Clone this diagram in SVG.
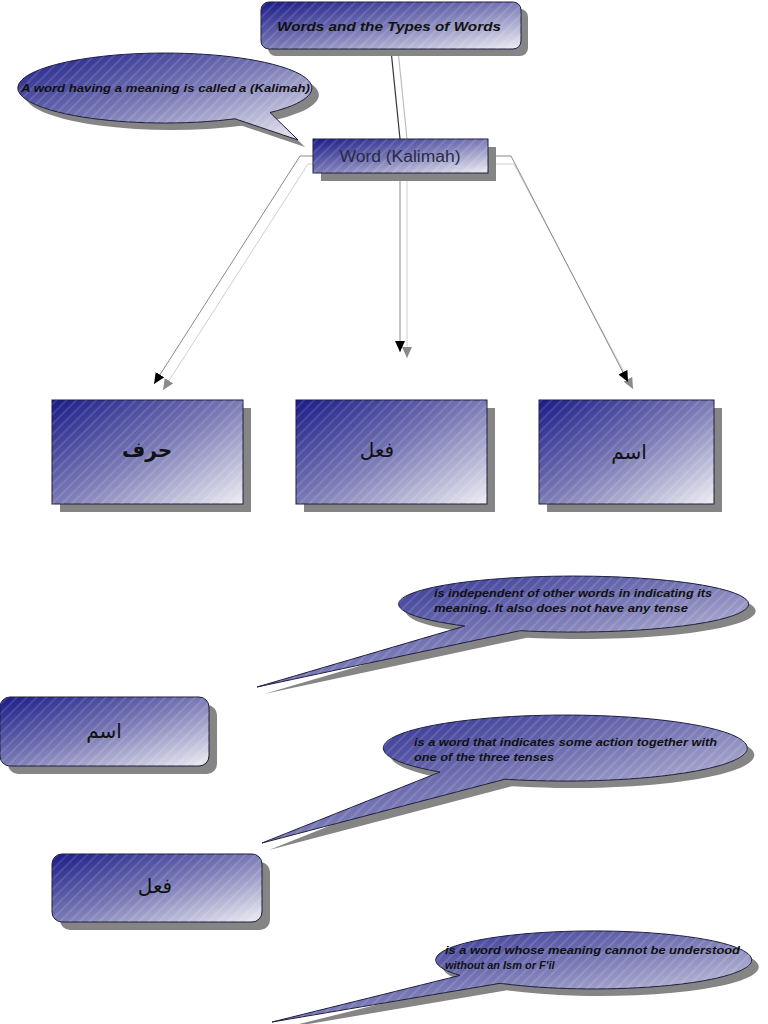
<svg xmlns="http://www.w3.org/2000/svg" width="768" height="1024" viewBox="0 0 768 1024">
  <style>
    .shadow { fill: #858585; }
    .box { fill: url(#grad); stroke: #1c1c3c; stroke-width: 1; }
    .stripe { fill: url(#stripes); }
    .lbl { font-family: "Liberation Sans", Arial, sans-serif; font-weight: bold; font-style: italic; fill: #111; }
    .ar { font-family: "DejaVu Sans", "Noto Sans", sans-serif; font-size: 20px; fill: #111; text-anchor: middle; }
    .main { fill: none; stroke: #8a8a8a; stroke-width: 1; }
    .ghost { fill: none; stroke: #cfcfcf; stroke-width: 1; }
  </style>
  <defs>
    <linearGradient id="grad" x1="0" y1="0" x2="1" y2="1">
      <stop offset="0" stop-color="#1a1a88"/>
      <stop offset="0.5" stop-color="#7a7ab6"/>
      <stop offset="1" stop-color="#eeeef3"/>
    </linearGradient>
    <pattern id="stripes" width="7" height="7" patternUnits="userSpaceOnUse" patternTransform="rotate(45)">
      <rect x="0" y="0" width="2" height="7" fill="#ffffff" fill-opacity="0.12"/>
    </pattern>
    <marker id="arrB" markerUnits="userSpaceOnUse" markerWidth="12" markerHeight="10" refX="11" refY="5" orient="auto">
      <path d="M0,0 L11,5 L0,10 Z" fill="#000"/>
    </marker>
    <marker id="arrG" markerUnits="userSpaceOnUse" markerWidth="12" markerHeight="10" refX="11" refY="5" orient="auto">
      <path d="M0,0 L11,5 L0,10 Z" fill="#8a8a8a"/>
    </marker>
  </defs>
  <rect width="768" height="1024" fill="#ffffff"/>

  <g id="connectors">
    <line x1="398" y1="50" x2="407" y2="139" stroke="#bdbdbd" stroke-width="1.2"/>
    <line x1="391" y1="50" x2="400" y2="139" stroke="#333" stroke-width="1.2"/>
    <polyline class="ghost" points="313,164 308,164 163,390" marker-end="url(#arrG)"/>
    <polyline class="main" points="313,156 300,156 154,384" marker-end="url(#arrB)"/>
    <line class="ghost" x1="407" y1="181" x2="407" y2="358" marker-end="url(#arrG)"/>
    <line class="main" x1="400" y1="173" x2="400" y2="352" marker-end="url(#arrB)"/>
    <polyline class="ghost" points="496,164 514,164 633,389" marker-end="url(#arrG)"/>
    <polyline class="main" points="488,156 511,156 628,382" marker-end="url(#arrB)"/>
  </g>

  <g id="title">
    <rect class="shadow" x="268" y="9" width="260" height="47" rx="8"/>
    <rect class="box" x="261" y="2" width="260" height="47" rx="8"/>
    <rect class="stripe" x="261" y="2" width="260" height="47" rx="8"/>
    <text class="lbl" x="389" y="31" font-size="13.5" text-anchor="middle" textLength="224" lengthAdjust="spacingAndGlyphs">Words and the Types of Words</text>
  </g>

  <g id="callout-kalimah">
    <path class="shadow" d="M277 119.5 L305 147 L242 125.8 A147 35 0 1 1 277 119.5 Z"/>
    <path class="box" d="M270 112.5 L298 140 L235 118.8 A147 35 0 1 1 270 112.5 Z"/>
    <path class="stripe" d="M270 112.5 L298 140 L235 118.8 A147 35 0 1 1 270 112.5 Z"/>
    <text class="lbl" x="21" y="92" font-size="11.5" textLength="289" lengthAdjust="spacingAndGlyphs">A word having a meaning is called a (Kalimah)</text>
  </g>

  <g id="word">
    <rect class="shadow" x="321" y="147" width="175" height="34"/>
    <rect class="box" x="313" y="139" width="175" height="34"/>
    <rect class="stripe" x="313" y="139" width="175" height="34"/>
    <text x="400" y="162" font-family="Liberation Sans, Arial, sans-serif" font-size="16" fill="#2a2a48" text-anchor="middle" textLength="121" lengthAdjust="spacingAndGlyphs">Word (Kalimah)</text>
  </g>

  <g id="harf">
    <rect class="shadow" x="60" y="408" width="191" height="104"/>
    <rect class="box" x="52" y="400" width="191" height="104"/>
    <rect class="stripe" x="52" y="400" width="191" height="104"/>
    <text class="ar" x="147" y="457" font-weight="bold">حرف</text>
  </g>

  <g id="fil">
    <rect class="shadow" x="304" y="408" width="191" height="104"/>
    <rect class="box" x="296" y="400" width="191" height="104"/>
    <rect class="stripe" x="296" y="400" width="191" height="104"/>
    <text class="ar" x="377" y="457">فعل</text>
  </g>

  <g id="ism">
    <rect class="shadow" x="547" y="408" width="175" height="104"/>
    <rect class="box" x="539" y="400" width="175" height="104"/>
    <rect class="stripe" x="539" y="400" width="175" height="104"/>
    <text class="ar" x="629" y="459">اسم</text>
  </g>

  <g id="callout-ism">
    <path class="shadow" d="M472 633 L264 694 L527 637.7 A175 28 0 1 0 472 633 Z"/>
    <path class="box" d="M465 626 L257 687 L520 630.7 A175 28 0 1 0 465 626 Z"/>
    <path class="stripe" d="M465 626 L257 687 L520 630.7 A175 28 0 1 0 465 626 Z"/>
    <text class="lbl" x="434" y="597" font-size="11" textLength="278" lengthAdjust="spacingAndGlyphs">is independent of other words in indicating its</text>
    <text class="lbl" x="434" y="612" font-size="11" textLength="254" lengthAdjust="spacingAndGlyphs">meaning. It also does not have any tense</text>
  </g>

  <g id="ism-box">
    <rect class="shadow" x="8" y="705" width="209" height="69" rx="10"/>
    <rect class="box" x="0" y="697" width="209" height="69" rx="10"/>
    <rect class="stripe" x="0" y="697" width="209" height="69" rx="10"/>
    <text class="ar" x="104" y="738">اسم</text>
  </g>

  <g id="callout-fil">
    <path class="shadow" d="M447 779 L269 850 L512 786.2 A182 33 0 1 0 447 779 Z"/>
    <path class="box" d="M440 772 L262 843 L505 779.2 A182 33 0 1 0 440 772 Z"/>
    <path class="stripe" d="M440 772 L262 843 L505 779.2 A182 33 0 1 0 440 772 Z"/>
    <text class="lbl" x="414" y="746" font-size="11" textLength="303" lengthAdjust="spacingAndGlyphs">is a word that indicates some action together with</text>
    <text class="lbl" x="414" y="761" font-size="11" textLength="140" lengthAdjust="spacingAndGlyphs">one of the three tenses</text>
  </g>

  <g id="fil-box">
    <rect class="shadow" x="60" y="862" width="210" height="68" rx="10"/>
    <rect class="box" x="52" y="854" width="210" height="68" rx="10"/>
    <rect class="stripe" x="52" y="854" width="210" height="68" rx="10"/>
    <text class="ar" x="155" y="893">فعل</text>
  </g>

  <g id="callout-harf">
    <path class="shadow" d="M467 982.4 L279 1029 L507 990.3 A158 29 0 1 0 467 982.4 Z"/>
    <path class="box" d="M460 975.4 L272 1022 L500 983.3 A158 29 0 1 0 460 975.4 Z"/>
    <path class="stripe" d="M460 975.4 L272 1022 L500 983.3 A158 29 0 1 0 460 975.4 Z"/>
    <text class="lbl" x="445" y="954" font-size="11" textLength="295" lengthAdjust="spacingAndGlyphs">is a word whose meaning cannot be understood</text>
    <text class="lbl" x="445" y="969" font-size="11">without an Ism or F'il</text>
  </g>
</svg>
